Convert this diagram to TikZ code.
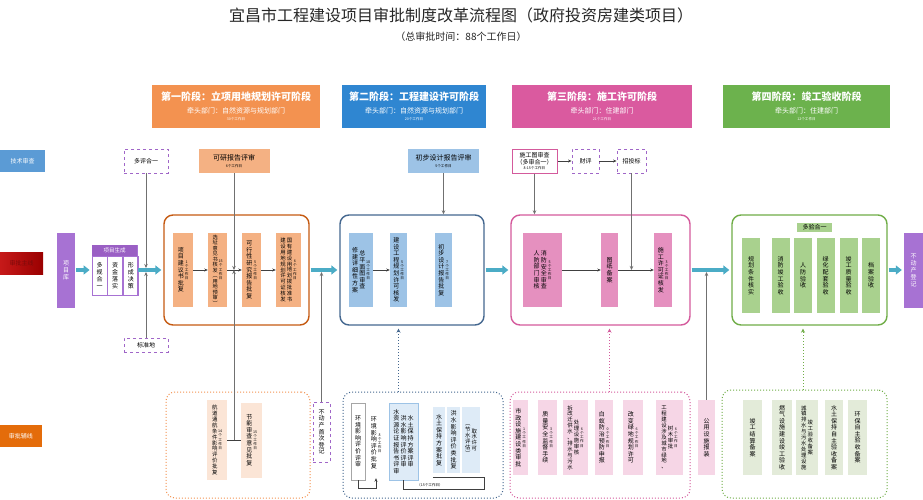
\documentclass[tikz,border=0pt]{standalone}
\usepackage{fontspec}
\setmainfont{Noto Sans CJK SC}
\usepackage{tikz}
\usetikzlibrary{arrows.meta, positioning, calc}

\definecolor{orgHead}{HTML}{F39250}
\definecolor{orgIn}{HTML}{F4B183}
\definecolor{orgLine}{HTML}{C55A11}
\definecolor{orgPale}{HTML}{FBE5D6}
\definecolor{bluHead}{HTML}{2F86D1}
\definecolor{bluIn}{HTML}{9DC3E6}
\definecolor{bluLine}{HTML}{44678F}
\definecolor{bluPale}{HTML}{DEEBF7}
\definecolor{pnkHead}{HTML}{DA5A9F}
\definecolor{pnkIn}{HTML}{E590BF}
\definecolor{pnkLine}{HTML}{D45A9C}
\definecolor{pnkPale}{HTML}{F6D6E6}
\definecolor{grnHead}{HTML}{6CB24D}
\definecolor{grnIn}{HTML}{A9D18E}
\definecolor{grnLine}{HTML}{70AD47}
\definecolor{grnPale}{HTML}{E3EBD9}
\definecolor{purFill}{HTML}{A772D3}
\definecolor{purDark}{HTML}{9A5FC4}
\definecolor{purDash}{HTML}{A066C8}
\definecolor{flowc}{HTML}{4BACC6}
\definecolor{lnkc}{HTML}{404040}
\definecolor{gryc}{HTML}{707070}
\definecolor{techBlue}{HTML}{5B9BD5}
\definecolor{mainRed}{HTML}{C00000}
\definecolor{mainTxt}{HTML}{7A0A0A}
\definecolor{auxOrg}{HTML}{E46C0A}

% 竖排文字：一字一行
\makeatletter
\newcommand{\vc}[1]{\parbox[c]{1.2em}{\centering\@tfor\vc@t:=#1\do{\vc@t\par}}}
\makeatother
\newcommand{\dy}[1]{{\fontsize{3.6}{4.2}\selectfont\vc{#1}}}
\newcommand{\vcs}[1]{{\fontsize{5.4}{5.9}\selectfont\vc{#1}}}

\begin{document}
\begin{tikzpicture}[x=1pt, y=-1pt, >=Stealth,
  stg/.style={draw=#1, line width=1.4pt, rounded corners=9pt, minimum height=110, inner sep=0pt},
  sub/.style={draw=#1, dotted, line width=1pt, rounded corners=9pt, minimum height=106, inner sep=0pt},
  ibox/.style={fill=#1, inner sep=1pt, minimum height=74, font=\fontsize{6}{6.6}\selectfont},
  hdr/.style={fill=#1, text=white, minimum height=43, align=center, inner sep=0pt, font=\fontsize{7}{10}\selectfont},
  dsh/.style={draw=purDash, dashed, line width=0.9pt, fill=white, inner sep=0pt, font=\fontsize{6}{7}\selectfont},
  lbl/.style={minimum height=22, inner sep=0pt, font=\fontsize{6}{7}\selectfont},
  rev/.style={fill=#1, minimum width=71, minimum height=24, align=center, inner sep=0pt, font=\fontsize{7}{9}\selectfont},
  flow/.style={draw=flowc, line width=3.5pt, -{Triangle[length=6pt,width=9pt]}, shorten <=1pt, shorten >=2pt},
  lnk/.style={draw=lnkc, line width=0.8pt, -{Stealth[length=3.5pt,width=3pt]}},
  feed/.style={draw=gryc, line width=1pt, -{Stealth[length=4pt,width=3.5pt]}},
  upd/.style={draw=#1, dotted, line width=1pt, -{Stealth[length=4pt,width=4pt]}, shorten >=3pt}
]
  \useasboundingbox (0,0) rectangle (923,500);
  \fill[white] (0,0) rectangle (923,500);

  % === 标题 ===
  \node[text=black!85, font=\fontsize{16}{18}\selectfont] (title) at (461,15) {宜昌市工程建设项目审批制度改革流程图（政府投资房建类项目）};
  \node[text=black!85, font=\fontsize{10}{12}\selectfont] (subtitle) at (461,37) {（总审批时间：88个工作日）};

  % === 左侧 ===
  \node[lbl, fill=techBlue, text=white, minimum width=45] (jssc) at (22.5,161) {技术审查};
  \node[lbl, left color=mainRed!90!white, right color=mainRed!80!black, text=mainTxt, minimum width=43] (spzx) at (21.5,263) {审批主线};
  \node[lbl, fill=auxOrg, text=white, minimum width=42] (spfx) at (21,436) {审批辅线};

  \node[fill=purFill, text=white, minimum width=18, minimum height=75, inner sep=0pt, font=\fontsize{6}{7}\selectfont] (xmk) at (66,270) {\vc{项目库}};

  % 项目生成
  \node[draw=purFill, line width=0.8pt, minimum width=45, minimum height=50] (xmsc) at (114.5,270) {};
  \node[fill=purDark, text=white, minimum width=45, minimum height=11, inner sep=0pt, font=\fontsize{5.5}{6}\selectfont, anchor=north] (xmbt) at (xmsc.north) {项目生成};
  \node[draw=purFill, line width=0.6pt, minimum width=15, minimum height=39, inner sep=0pt, font=\fontsize{6}{7}\selectfont, anchor=north west] (xm1) at (xmbt.south west) {\vc{多规合一}};
  \node[draw=purFill, line width=0.6pt, minimum width=15, minimum height=39, inner sep=0pt, font=\fontsize{6}{7}\selectfont, anchor=north west] (xm2) at (xm1.north east) {\vc{资金落实}};
  \node[draw=purFill, line width=0.6pt, minimum width=15, minimum height=39, inner sep=0pt, font=\fontsize{6}{7}\selectfont, anchor=north west] (xm3) at (xm2.north east) {\vc{形成决策}};

  \node[dsh, minimum width=44, minimum height=24] (dphy) at (146,161) {多评合一};
  \node[dsh, minimum width=44, minimum height=14] (bzd) at (146,345) {标准地};

  % === 第一阶段 ===
  \node[hdr=orgHead, minimum width=168] (h1) at (236,106.5) {{\bfseries\fontsize{10}{12}\selectfont 第一阶段：立项用地规划许可阶段}\\[3pt]牵头部门：自然资源与规划部门\\[-3pt]{\fontsize{3.6}{4}\selectfont 30个工作日}};

  \node[stg=orgLine, minimum width=145] (st1) at (236.5,270) {};
  \node[ibox=orgIn, minimum width=20] (p1) at (183,270) {\vc{项目建议书批复}\dy{1个工作日}};
  \node[ibox=orgIn, minimum width=19] (p2) at (217.5,270) {{\fontsize{5.2}{5.5}\selectfont\vc{选址意见书核发︵用地预审︶}}\dy{{15}个工作日}};
  \node[ibox=orgIn, minimum width=19] (p3) at (251.5,270) {\vc{可行性研究报告批复}\dy{5个工作日}};
  \node[ibox=orgIn, minimum width=25] (p4) at (288.5,270) {\vcs{建设用地规划许可证核发}\vcs{国有建设用地划拨批准书}\dy{6个工作日}};
  \draw[lnk] (p1) -- (p2);
  \draw[lnk] (p2) -- (p3);
  \draw[lnk] (p3) -- (p4);

  \node[rev=orgIn] (kyps) at (234,161) {可研报告评审\\[-2pt]{\fontsize{3.6}{4}\selectfont 6个工作日}};
  \coordinate (m1) at ($(p2.east)!0.5!(p3.west)$);
  \draw[feed] (kyps.south) -- (kyps.south |- m1);

  % 辅线
  \node[sub=orgHead, minimum width=144] (sb1) at (238,445) {};
  \node[ibox=orgPale, minimum width=20, minimum height=80] (hd) at (217,440) {\vcs{航道通航条件影响评价批复}\dy{{14}个工作日}};
  \node[ibox=orgPale, minimum width=21, minimum height=75] (jn) at (251.5,440) {\vc{节能审查意见批复}\dy{{15}个工作日}};
  \draw[lnkc, line width=0.8pt] (hd) -- (jn);
  \coordinate (j1) at ($(hd.east)!0.5!(jn.west)$);
  \draw[feed] (j1) -- (j1 |- m1);

  \node[dsh, minimum width=17, minimum height=60, font=\fontsize{6}{6.6}\selectfont] (bdcsc) at (321.5,432) {\vc{不动产首次登记}};

  % === 第二阶段 ===
  \node[hdr=bluHead, minimum width=144] (h2) at (414,106.5) {{\bfseries\fontsize{10}{12}\selectfont 第二阶段：工程建设许可阶段}\\[3pt]牵头部门：自然资源与规划部门\\[-3pt]{\fontsize{3.6}{4}\selectfont 20个工作日}};

  \node[stg=bluLine, minimum width=144] (st2) at (412,270) {};
  \node[ibox=bluIn, minimum width=24] (q1) at (361,270) {\vc{修建详细性方案}\vc{总平面图审查}\dy{{18}个工作日}};
  \node[ibox=bluIn, minimum width=17] (q2) at (398.5,270) {\vc{建设工程规划许可核发}\dy{5个工作日}};
  \node[ibox=bluIn, minimum width=17] (q3) at (443.5,270) {\vc{初步设计报告批复}\dy{7个工作日}};
  \draw[lnk] (q1) -- (q2);

  \node[rev=bluIn] (cbps) at (443.5,161) {初步设计报告评审\\[-2pt]{\fontsize{3.6}{4}\selectfont 5个工作日}};
  \draw[feed] (cbps.south) -- (cbps.south |- st2.north);

  % 辅线
  \node[sub=bluLine, minimum width=160] (sb2) at (423,445) {};
  \node[draw=gray!70, fill=white, inner sep=1pt, minimum width=14, minimum height=77, font=\fontsize{6}{6.6}\selectfont] (hpps) at (358,441.5) {\vc{环境影响评价评审}};
  \node[inner sep=1pt, minimum width=17, minimum height=70, font=\fontsize{6}{6.6}\selectfont] (hppf) at (376,443) {\vc{环境影响评价批复}\dy{8个工作日}};
  \draw[lnk] (hpps.south) -- ++(0,8) -| (hppf.south);

  \node[ibox=bluPale, draw=bluIn, minimum width=29, minimum height=77] (sps) at (403.5,441.5) {\vc{水资源论证报告书评审}\vc{洪水影响评价评审}\vc{水土保持方案评审}};
  \node[ibox=bluPale, minimum width=12, minimum height=66] (sbpf) at (439,440) {\vc{水土保持方案批复}};
  \node[ibox=bluPale, minimum width=13, minimum height=66] (hspf) at (453.5,440) {\vc{洪水影响评价类批复}};
  \node[ibox=bluPale, minimum width=18, minimum height=66] (qsxk) at (471,440) {\vcs{︵节水评估︶}\vcs{取水许可}};
  \coordinate (br) at (484,477);
  \draw[lnkc, line width=0.8pt] (sbpf.south west |- br) -- (br);
  \draw[lnkc, line width=0.8pt] (sps.south) |- ($(br)+(0,12)$) -- (br);
  \node[inner sep=0pt, anchor=south, font=\fontsize{3.6}{4}\selectfont] (d15) at (430,487.5) {（15个工作日）};

  \draw[upd=bluLine] (sb2.north -| q2) -- (st2.south -| q2);

  % === 第三阶段 ===
  \node[hdr=pnkHead, minimum width=180] (h3) at (602,106.5) {{\bfseries\fontsize{10}{12}\selectfont 第三阶段：施工许可阶段}\\[3pt]牵头部门：住建部门\\[-3pt]{\fontsize{3.6}{4}\selectfont 21个工作日}};

  \node[stg=pnkLine, minimum width=179] (st3) at (600.5,270) {};
  \node[ibox=pnkIn, minimum width=39] (r1) at (542.5,270) {\vc{人防部门审核}\vc{消防安全审查}\dy{5个工作日}};
  \node[ibox=pnkIn, minimum width=17] (r2) at (609.5,270) {\vc{图纸备案}};
  \node[ibox=pnkIn, minimum width=18] (r3) at (663,270) {\vc{施工许可证核发}\dy{3个工作日}};
  \draw[lnk] (r1) -- (r2);
  \draw[lnk] (r2) -- (r3);

  \node[draw=pnkLine, line width=1pt, fill=white, minimum width=45, minimum height=24, align=center, inner sep=0pt, font=\fontsize{6}{7}\selectfont] (sgt) at (534.5,161) {施工图审查\\（多审合一）\\[-2pt]{\fontsize{3.6}{4}\selectfont 8-15个工作日}};
  \node[dsh, minimum width=27, minimum height=24] (cp) at (585.5,161) {财评};
  \node[dsh, minimum width=29, minimum height=24] (ztb) at (631.5,161) {招投标};
  \draw[lnk] (sgt) -- (cp);
  \draw[lnk] (cp) -- (ztb);
  \draw[feed] (sgt.south) -- (sgt.south |- st3.north);
  \coordinate (m3) at ($(r2.east)!0.5!(r3.west)$);
  \draw[feed] (ztb.south) -- (ztb.south |- m3);

  % 辅线
  \node[sub=pnkLine, minimum width=180] (sb3) at (600,445) {};
  \node[ibox=pnkPale, minimum width=15, minimum height=75] (u1) at (520.5,437.5) {\vc{市政设施建设类审批}\dy{1个工作日}};
  \node[ibox=pnkPale, minimum width=19, minimum height=75] (u2) at (547.5,437.5) {\vc{质量安全监督手续}\dy{3个工作日}};
  \node[ibox=pnkPale, minimum width=25, minimum height=75] (u3) at (575.5,437.5) {\vcs{拆改迁供水、排水与污水}\vcs{处理设施审核}\dy{6个工作日}};
  \node[ibox=pnkPale, minimum width=18, minimum height=75] (u4) at (604,437.5) {\vc{白蚁防治预防申报}\dy{0个工作日}};
  \node[ibox=pnkPale, minimum width=20, minimum height=75] (u5) at (633,437.5) {\vc{改变绿地规划许可}\dy{6个工作日}};
  \node[ibox=pnkPale, minimum width=27, minimum height=75] (u6) at (669.5,437.5) {\vcs{工程建设涉及城市绿地、}\vcs{树木审批}\dy{6个工作日}};
  \draw[upd=pnkLine] (sb3.north -| r2) -- (st3.south -| r2);

  \node[ibox=pnkPale, minimum width=17, minimum height=75] (gysb) at (706.5,437.5) {\vc{公用设施报装}};

  % === 第四阶段 ===
  \node[hdr=grnHead, minimum width=167] (h4) at (806.5,106.5) {{\bfseries\fontsize{10}{12}\selectfont 第四阶段：竣工验收阶段}\\[3pt]牵头部门：住建部门\\[-3pt]{\fontsize{3.6}{4}\selectfont 12个工作日}};

  \node[stg=grnLine, minimum width=155] (st4) at (809.5,270) {};
  \node[fill=grnIn, minimum width=35, minimum height=9, inner sep=0pt, font=\fontsize{6}{7}\selectfont] (dyhy) at (814.5,227) {多验合一};
  \node[ibox=grnIn, minimum width=18, minimum height=75] (t1) at (751,275.5) {\vc{规划条件核实}};
  \node[ibox=grnIn, minimum width=18, minimum height=75] (t2) at (780.5,275.5) {\vc{消防竣工验收}};
  \node[ibox=grnIn, minimum width=18, minimum height=75] (t3) at (803,275.5) {\vc{人防验收}};
  \node[ibox=grnIn, minimum width=18, minimum height=75] (t4) at (825.5,275.5) {\vc{绿化配套验收}};
  \node[ibox=grnIn, minimum width=18, minimum height=75] (t5) at (848.5,275.5) {\vc{竣工质量验收}};
  \node[ibox=grnIn, minimum width=18, minimum height=75] (t6) at (871,275.5) {\vc{档案验收}};

  \node[fill=purFill, text=white, minimum width=19, minimum height=75, inner sep=0pt, font=\fontsize{6}{7}\selectfont] (bdc) at (913.5,270) {\vc{不动产登记}};

  % 辅线
  \node[sub=grnLine, minimum width=165, minimum height=108] (sb4) at (804.5,444) {};
  \node[ibox=grnPale, minimum width=19, minimum height=75] (v1) at (752.5,437.5) {\vc{竣工结算备案}};
  \node[ibox=grnPale, minimum width=20, minimum height=75] (v2) at (782,437.5) {\vc{燃气设施建设竣工验收}};
  \node[ibox=grnPale, minimum width=22, minimum height=75] (v3) at (807,437.5) {\vcs{城镇排水与污水处理设施}\vcs{竣工验收备案}};
  \node[ibox=grnPale, minimum width=18, minimum height=75] (v4) at (834,437.5) {\vc{水土保持自主验收备案}};
  \node[ibox=grnPale, minimum width=19, minimum height=75] (v5) at (857.5,437.5) {\vc{环保自主验收备案}};
  \draw[upd=grnLine] (sb4.north -| t3) -- (st4.south -| t3);

  % === 主线箭头 ===
  \draw[flow] (xmk.east) -- (xmsc.west);
  \draw[flow] (xmsc.east) -- (st1.west);
  \draw[flow] (st1.east) -- (st2.west);
  \draw[flow] (st2.east) -- (st3.west);
  \draw[flow] (st3.east) -- (st4.west);
  \draw[flow] (st4.east) -- (bdc.west);

  % 汇入主线
  \coordinate (f0) at ($(xmsc.east)!0.4!(st1.west)$);
  \coordinate (f1) at ($(st1.east)!0.5!(st2.west)$);
  \coordinate (f3) at ($(st3.east)!0.5!(st4.west)$);
  \draw[feed, shorten >=2pt] (dphy.south) -- (dphy.south |- f0);
  \draw[feed, shorten >=2pt] (bzd.north) -- (bzd.north |- f0);
  \draw[feed, shorten >=2pt] (bdcsc.north) -- (bdcsc.north |- f1);
  \draw[feed, shorten >=2pt] (gysb.north) -- (gysb.north |- f3);
\end{tikzpicture}
\end{document}
